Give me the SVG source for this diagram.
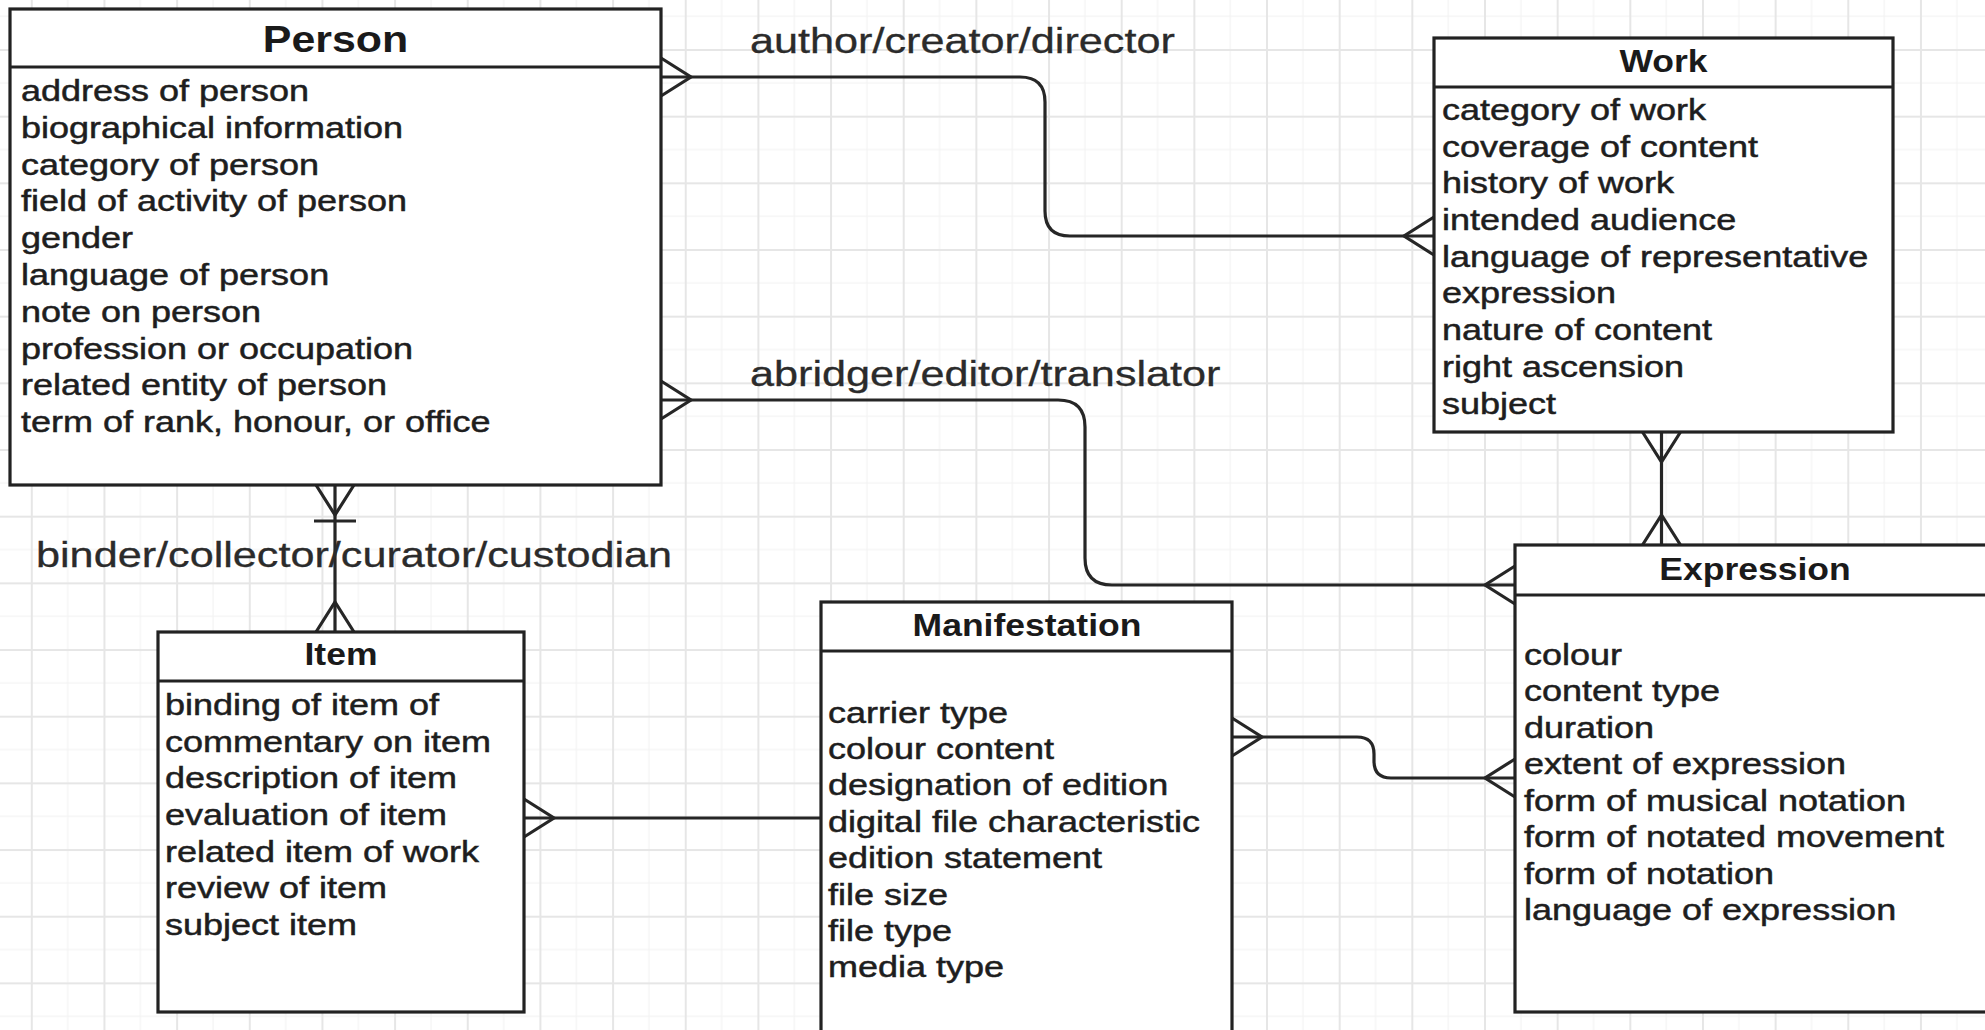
<svg xmlns="http://www.w3.org/2000/svg" xmlns:xlink="http://www.w3.org/1999/xlink" width="1985" height="1030" viewBox="0 0 1985 1030">
<style>
.box{fill:#fff;stroke:#222;stroke-width:3.2}
.hdr{fill:none;stroke:#222;stroke-width:3.2}
.title{font-family:"Liberation Sans",Arial,sans-serif;font-weight:bold;fill:#1a1a1a;text-anchor:middle}
.attr{font-family:"Liberation Sans",Arial,sans-serif;font-size:30px;fill:#1e1e1e;stroke:#1e1e1e;stroke-width:0.5}
.lbl{font-family:"Liberation Sans",Arial,sans-serif;font-size:36px;fill:#2b2b2b;stroke:#2b2b2b;stroke-width:0.3}
.conn{fill:none;stroke:#262626;stroke-width:3.2}
</style>
<defs>
<pattern id="grid" x="30.8" y="49" width="72.66" height="66.67" patternUnits="userSpaceOnUse">
<rect x="36.3" y="0" width="1.2" height="66.67" fill="#f3f3f3"/>
<rect x="0" y="33.3" width="72.66" height="1.2" fill="#f3f3f3"/>
<rect x="0" y="0" width="2" height="66.67" fill="#e6e6e6"/>
<rect x="0" y="0" width="72.66" height="2" fill="#e6e6e6"/>
</pattern>
<path id="crow" class="conn" d="M0,-19 L30,0 L0,19"/>
</defs>
<rect width="1985" height="1030" fill="#fff"/>
<rect width="1985" height="1030" fill="url(#grid)"/>

<g id="connectors">
<path class="conn" d="M661,77 H1020 Q1045,77 1045,102 V211 Q1045,236 1070,236 H1434"/>
<path class="conn" d="M661,400 H1058 Q1085,400 1085,427 V558 Q1085,585 1112,585 H1515"/>
<path class="conn" d="M1661.5,432 V545"/>
<path class="conn" d="M1232,737 H1357 Q1374,737 1374,754 V761 Q1374,778 1391,778 H1515"/>
<path class="conn" d="M524,818 H821"/>
<path class="conn" d="M335,485 V632"/>
<use xlink:href="#crow" transform="translate(661,77)"/>
<use xlink:href="#crow" transform="translate(1434,236) rotate(180)"/>
<use xlink:href="#crow" transform="translate(661,400)"/>
<use xlink:href="#crow" transform="translate(1515,585) rotate(180)"/>
<use xlink:href="#crow" transform="translate(1661.5,432) rotate(90)"/>
<use xlink:href="#crow" transform="translate(1661.5,545) rotate(-90)"/>
<use xlink:href="#crow" transform="translate(1232,737)"/>
<use xlink:href="#crow" transform="translate(1515,778) rotate(180)"/>
<use xlink:href="#crow" transform="translate(524,818)"/>
<use xlink:href="#crow" transform="translate(335,485) rotate(90)"/>
<use xlink:href="#crow" transform="translate(335,632) rotate(-90)"/>
<path class="conn" d="M314,521 H356"/>
<text class="lbl" transform="translate(750,53) scale(1.2,1)">author/creator/director</text>
<text class="lbl" transform="translate(750,386) scale(1.2,1)">abridger/editor/translator</text>
<text class="lbl" transform="translate(36,567) scale(1.2,1)">binder/collector/curator/custodian</text>
</g>

<g id="person">
<rect class="box" x="10" y="9" width="651" height="476"/>
<path class="hdr" d="M10,67 H661"/>
<text class="title" font-size="37" transform="translate(335.5,52) scale(1.16,1)">Person</text>
<text class="attr" transform="translate(21,101) scale(1.2,1)">
<tspan x="0" y="0">address of person</tspan>
<tspan x="0" y="36.8">biographical information</tspan>
<tspan x="0" y="73.6">category of person</tspan>
<tspan x="0" y="110.4">field of activity of person</tspan>
<tspan x="0" y="147.2">gender</tspan>
<tspan x="0" y="184">language of person</tspan>
<tspan x="0" y="220.8">note on person</tspan>
<tspan x="0" y="257.6">profession or occupation</tspan>
<tspan x="0" y="294.4">related entity of person</tspan>
<tspan x="0" y="331.2">term of rank, honour, or office</tspan>
</text>
</g>

<g id="work">
<rect class="box" x="1434" y="38" width="459" height="394"/>
<path class="hdr" d="M1434,87 H1893"/>
<text class="title" font-size="32" transform="translate(1663.5,72) scale(1.11,1)">Work</text>
<text class="attr" transform="translate(1442,120) scale(1.2,1)">
<tspan x="0" y="0">category of work</tspan>
<tspan x="0" y="36.7">coverage of content</tspan>
<tspan x="0" y="73.4">history of work</tspan>
<tspan x="0" y="110.1">intended audience</tspan>
<tspan x="0" y="146.8">language of representative</tspan>
<tspan x="0" y="183.5">expression</tspan>
<tspan x="0" y="220.2">nature of content</tspan>
<tspan x="0" y="256.9">right ascension</tspan>
<tspan x="0" y="293.6">subject</tspan>
</text>
</g>

<g id="expression">
<rect class="box" x="1515" y="545" width="480" height="467"/>
<path class="hdr" d="M1515,595 H1995"/>
<text class="title" font-size="32" transform="translate(1755,579.5) scale(1.11,1)">Expression</text>
<text class="attr" transform="translate(1524,665) scale(1.2,1)">
<tspan x="0" y="0">colour</tspan>
<tspan x="0" y="36.5">content type</tspan>
<tspan x="0" y="73">duration</tspan>
<tspan x="0" y="109.5">extent of expression</tspan>
<tspan x="0" y="146">form of musical notation</tspan>
<tspan x="0" y="182.5">form of notated movement</tspan>
<tspan x="0" y="219">form of notation</tspan>
<tspan x="0" y="255.5">language of expression</tspan>
</text>
</g>

<g id="manifestation">
<rect class="box" x="821" y="602" width="411" height="440"/>
<path class="hdr" d="M821,651 H1232"/>
<text class="title" font-size="32" transform="translate(1027,636) scale(1.11,1)">Manifestation</text>
<text class="attr" transform="translate(828,722.7) scale(1.2,1)">
<tspan x="0" y="0">carrier type</tspan>
<tspan x="0" y="36.4">colour content</tspan>
<tspan x="0" y="72.8">designation of edition</tspan>
<tspan x="0" y="109.2">digital file characteristic</tspan>
<tspan x="0" y="145.6">edition statement</tspan>
<tspan x="0" y="182">file size</tspan>
<tspan x="0" y="218.4">file type</tspan>
<tspan x="0" y="254.8">media type</tspan>
</text>
</g>

<g id="item">
<rect class="box" x="158" y="632" width="366" height="380"/>
<path class="hdr" d="M158,681 H524"/>
<text class="title" font-size="32" transform="translate(341,665) scale(1.11,1)">Item</text>
<text class="attr" transform="translate(165,715) scale(1.2,1)">
<tspan x="0" y="0">binding of item of</tspan>
<tspan x="0" y="36.7">commentary on item</tspan>
<tspan x="0" y="73.4">description of item</tspan>
<tspan x="0" y="110.1">evaluation of item</tspan>
<tspan x="0" y="146.8">related item of work</tspan>
<tspan x="0" y="183.5">review of item</tspan>
<tspan x="0" y="220.2">subject item</tspan>
</text>
</g>
</svg>
